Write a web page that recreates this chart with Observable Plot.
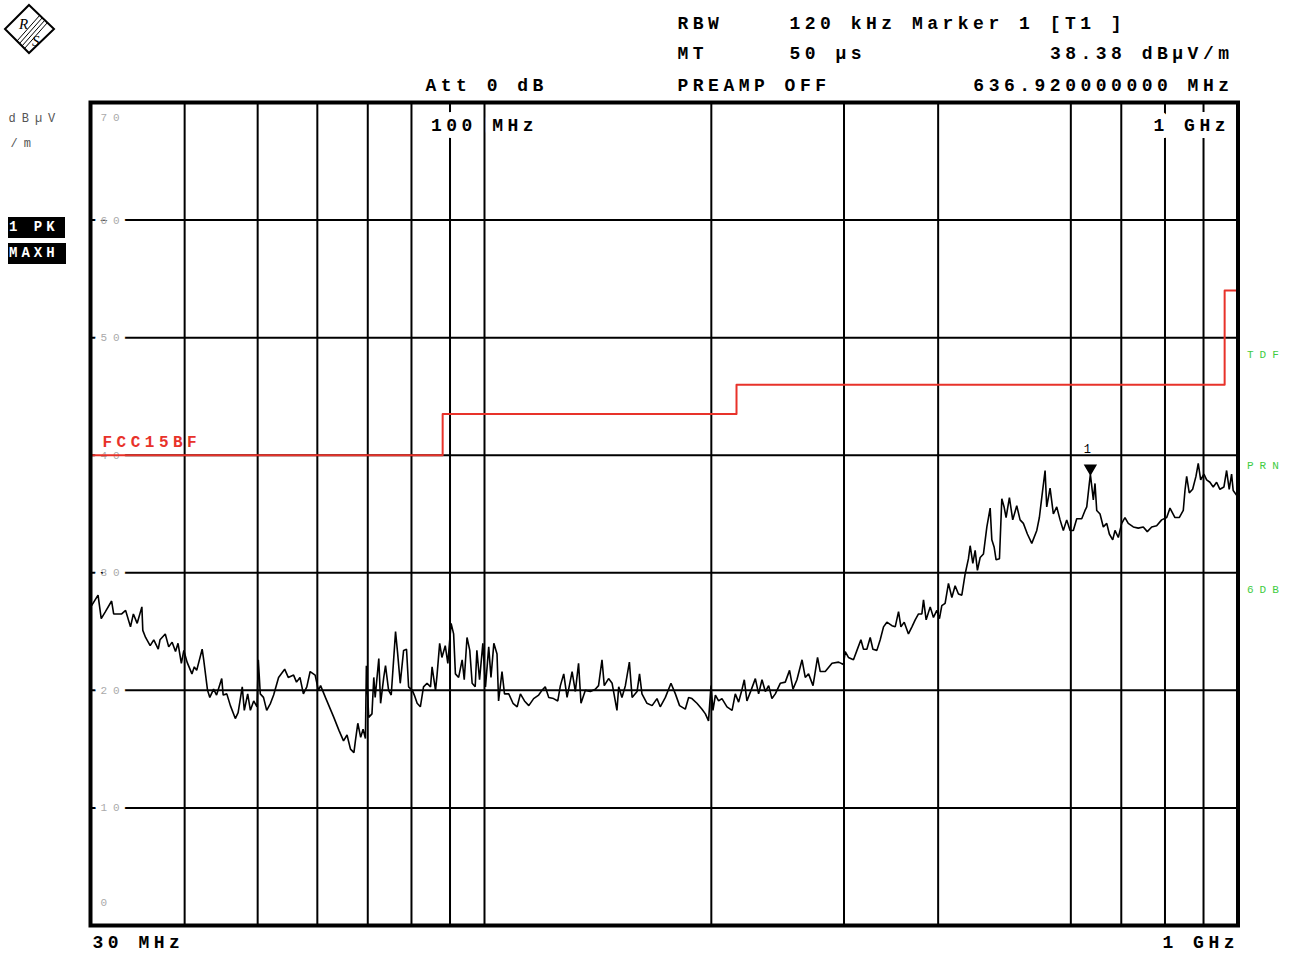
<!DOCTYPE html>
<html>
<head>
<meta charset="utf-8">
<script src="https://cdn.jsdelivr.net/npm/d3@7"></script>
<script src="https://cdn.jsdelivr.net/npm/@observablehq/plot@0.6"></script>
<style>
  html, body { margin: 0; padding: 0; background: #fff; }
  #wrap { position: relative; width: 1302px; height: 958px; overflow: hidden; }
  #wrap svg.plot { position: absolute; left: 0; top: 0; }
  .box { position: absolute; background: #000; color: #fff; font: bold 14px 'Liberation Mono', monospace;
         letter-spacing: 4px; line-height: 21px; height: 21px; overflow: hidden; padding-left: 1px; box-sizing: border-box; }
  #logo { position: absolute; left: 0; top: 0; }
</style>
</head>
<body>
<div id="wrap"></div>
<script>
// ---------- data ----------
const freqMHz = [
  30.1,30.7,31.0,31.4,32.0,32.2,33.0,33.4,33.9,34.2,34.6,35.1,35.2,35.5,36.0,36.4,36.9,37.1,37.7,38.1,38.5,38.9,39.2,39.6,39.9,
  40.3,40.9,41.2,41.5,42.2,42.4,42.9,43.2,43.7,44.1,44.8,45.0,45.5,46.0,46.7,47.1,47.7,48.0,48.5,48.9,49.4,49.9,
  50.1,50.4,50.9,51.4,52.0,52.5,53.3,54.3,54.9,55.8,56.3,56.9,57.5,58.1,58.7,59.6,
  60.2,60.6,61.5,63.1,64.1,65.0,65.7,66.4,67.1,67.4,67.9,68.5,69.0,69.5,69.7,
  70.2,70.9,71.3,71.6,72.4,72.8,73.5,73.9,74.6,75.2,76.2,76.7,77.3,78.1,78.8,79.3,
  80.2,80.7,81.4,82.2,83.0,83.9,84.8,85.2,86.1,86.5,87.2,87.8,88.7,89.4,
  90.3,91.0,91.5,92.4,93.4,94.0,94.8,95.6,96.3,97.2,97.7,98.5,99.5,
  100.3,101.3,102.0,102.9,103.9,104.4,105.5,106.3,107.7,109.1,110.5,111.6,113.0,114.5,116.2,118.0,119.2,120.4,121.7,123.5,125.1,
  126.1,127.4,128.7,130.7,132.0,133.3,134.3,136.1,138.2,140.3,141.7,143.2,144.2,146.1,147.7,149.9,150.7,152.2,153.8,155.7,
  157.0,159.4,160.6,161.8,164.3,166.9,169.4,171.1,173.8,176.8,179.2,181.5,184.7,186.6,188.5,191.4,194.4,196.4,198.3,
  199.8,201.0,202.5,204.5,206.6,209.8,213.1,215.2,217.4,219.7,221.2,223.0,225.8,228.8,231.1,233.5,235.9,238.3,240.7,243.2,
  246.9,250.7,254.0,256.7,259.8,263.9,266.5,269.2,272.9,276.7,279.0,283.3,289.2,295.1,
  299.5,301.1,304.1,308.8,312.1,315.9,318.4,321.7,325.0,327.7,331.7,335.1,338.5,342.0,347.3,350.8,354.4,357.0,360.6,365.3,
  369.2,372.9,376.7,380.6,382.5,385.6,390.4,394.3,
  398.4,401.6,404.5,408.6,412.8,417.1,421.3,425.6,430.0,434.4,438.8,441.1,444.7,447.9,451.0,454.8,459.4,464.2,468.9,471.3,
  474.6,477.5,482.4,485.9,489.3,492.3,497.3,
  502.4,508.6,513.8,519.0,525.4,532.5,540.7,545.0,549.0,554.6,557.4,563.1,568.8,574.7,
  580.6,586.4,592.5,598.6,604.6,610.9,620.3,626.6,629.9,634.9,636.92,642.7,646.0,649.4,656.0,662.6,669.6,674.9,681.9,686.7,693.7,
  700.9,707.9,715.1,726.2,737.3,748.7,757.9,768.2,779.9,791.9,
  804.2,812.3,824.8,835.7,846.0,850.4,854.8,861.6,870.6,879.4,885.6,892.2,
  901.1,908.6,917.8,927.1,936.7,946.2,957.9,965.8,973.5,980.6,985.4,995.8,1000
];
const levelDb = [
  27.2,28.1,26.1,26.7,27.6,26.5,26.5,26.8,25.4,26.5,25.7,27.1,25.1,24.5,23.8,24.3,23.5,24.3,24.8,23.7,24.1,23.3,24.0,22.3,23.4,
  22.4,21.4,22.0,21.7,23.5,22.6,20.0,19.4,20.1,19.6,21.0,19.6,19.7,18.7,17.6,18.1,20.3,18.3,19.7,18.3,19.1,18.6,
  22.6,19.7,19.4,18.3,18.9,19.6,21.1,21.8,21.1,21.3,20.7,21.1,19.7,20.3,21.6,21.3,
  20.0,20.4,19.4,17.7,16.6,15.7,16.2,15.0,14.7,15.7,17.2,16.0,16.7,15.9,22.1,
  17.7,18.0,21.1,19.4,22.7,18.9,21.1,22.1,20.0,19.6,25.0,23.1,20.6,23.4,23.5,20.3,
  20.0,19.6,18.9,18.6,20.3,20.6,20.3,22.0,20.0,21.3,24.0,22.8,23.8,22.3,
  25.7,24.8,21.4,21.1,22.6,20.9,24.5,23.4,20.6,20.3,23.4,20.9,24.0,
  20.3,23.7,21.1,24.0,23.1,19.1,21.6,19.7,19.7,18.9,18.6,19.7,19.1,18.7,19.3,19.6,20.0,20.3,19.4,19.3,19.1,
  20.4,21.4,19.4,21.6,19.9,22.3,18.9,20.0,19.9,20.1,20.4,22.6,20.4,21.0,20.6,18.3,20.3,19.4,20.4,22.4,
  19.4,19.9,21.4,19.7,18.9,18.7,19.3,18.6,19.4,20.6,19.7,18.7,18.4,19.4,19.3,18.9,18.4,18.0,17.4,
  20.4,18.3,19.6,19.1,19.3,18.6,18.3,19.7,19.0,20.1,20.9,19.1,20.0,21.0,19.7,20.9,19.9,20.4,19.3,19.7,
  20.6,20.7,21.7,20.1,20.9,22.6,21.1,21.4,20.4,22.8,21.6,21.6,22.3,22.4,
  22.2,23.3,22.8,22.6,23.4,24.3,23.5,23.5,24.5,23.5,23.4,24.3,25.4,25.8,25.5,25.4,26.7,25.4,25.8,24.8,
  25.4,26.0,26.5,26.5,27.7,26.0,27.1,26.2,
  26.8,26.1,27.2,27.4,29.1,27.9,28.9,28.2,28.1,29.9,31.2,32.3,30.8,31.9,30.2,31.3,31.6,33.9,35.5,32.8,
  32.2,31.1,31.2,36.3,35.6,34.7,36.4,
  34.5,35.7,34.5,34.2,33.3,32.5,33.6,34.7,36.4,38.7,35.6,37.2,35.0,35.6,
  34.5,33.6,34.5,33.6,33.6,34.6,34.6,35.3,35.6,37.6,38.38,36.2,37.6,35.3,35.0,33.9,34.2,33.3,32.8,33.6,33.0,
  34.2,34.7,34.2,33.9,33.8,33.9,33.5,33.9,34.0,34.5,
  34.7,35.5,34.7,34.7,35.3,37.0,38.2,36.8,37.1,38.2,39.3,37.9,
  38.4,37.9,37.7,37.3,37.7,37.1,37.3,38.7,37.1,38.4,37.0,36.6,36.3
];
// FCC 15 class B limit line (step)
const limitFreq = [30, 88, 88, 216, 216, 960, 960, 1000];
const limitDb   = [40, 40, 43.5, 43.5, 46, 46, 54, 54];
const limitName = "FCC15BF";
// grid
const xGridMHz = [40, 50, 60, 70, 80, 90, 100, 200, 300, 400, 600, 700, 800, 900];
const yGridDb = [10, 20, 30, 40, 50, 60];
const yTickDb = [10, 20, 30, 40, 50, 60];
const xDomain = [30, 1000];
const yDomain = [0, 70];
// marker
const markerFreq = [636.92];
const markerDb = [38.38];
const markerName = ["1"];
// texts
const headerTexts = {
  rbwKey: "RBW", rbwVal: "120 kHz Marker 1 [T1 ]",
  mtKey: "MT", mtVal: "50 µs", markerLevel: "38.38 dBµV/m",
  att: "Att 0 dB", preamp: "PREAMP OFF", markerFreqText: "636.920000000 MHz",
  unit1: "dBµV", unit2: "/m",
  innerLeft: "100 MHz", innerRight: "1 GHz",
  startText: "30 MHz", stopText: "1 GHz",
  trace1: "1 PK", trace2: "MAXH"
};
const sideLabels = ["TDF", "PRN", "6DB"];

// ---------- build ----------
const trace = freqMHz.map((f, i) => ({f, v: levelDb[i]}));
const limit = limitFreq.map((f, i) => ({f, v: limitDb[i]}));
const marker = markerFreq.map((f, i) => ({f, v: markerDb[i], name: markerName[i]}));

const mono = "'Liberation Mono', 'DejaVu Sans Mono', monospace";
const RED = "#e8322a";
const GREEN = "#41cc41";
const GRAY = "#aaaaaa";
const BIG = 18;

function lab(text, o) {
  return Plot.text([text], Object.assign({
    text: d => d, frameAnchor: "top-left", textAnchor: "start",
    fontFamily: mono, fontWeight: "bold", fontSize: BIG, fill: "black"
  }, o));
}

const chart = Plot.plot({
  width: 1302, height: 958,
  marginLeft: 90, marginRight: 64.5, marginTop: 102, marginBottom: 33,
  x: {type: "log", domain: xDomain, axis: null},
  y: {domain: yDomain, axis: null},
  style: {fontFamily: mono, letterSpacing: "4.5px", background: "white"},
  marks: [
    Plot.ruleX(xGridMHz, {stroke: "black", strokeWidth: 2}),
    Plot.ruleY(yGridDb, {stroke: "black", strokeWidth: 2}),
    // y tick labels (gray, inside plot, interrupting gridlines)
    Plot.text(yTickDb, {y: d => d, text: d => String(d), frameAnchor: "left", dx: 10, textAnchor: "start",
      fill: GRAY, stroke: "white", strokeWidth: 12, fontSize: 11, fontFamily: mono}),
    Plot.text([70], {y: d => d, text: d => String(d), frameAnchor: "left", dx: 10, dy: 15, textAnchor: "start",
      fill: GRAY, stroke: "white", strokeWidth: 7, fontSize: 11, fontFamily: mono}),
    Plot.text([0], {y: d => d, text: d => String(d), frameAnchor: "left", dx: 10, dy: -23, textAnchor: "start",
      fill: GRAY, stroke: "white", strokeWidth: 7, fontSize: 11, fontFamily: mono}),
    // inner frequency labels
    Plot.text([100], {x: d => d, text: () => headerTexts.innerLeft, frameAnchor: "top", dy: 16, textAnchor: "middle",
      fill: "black", stroke: "white", strokeWidth: 14, fontSize: BIG, fontWeight: "bold", fontFamily: mono}),
    Plot.text([1000], {x: d => d, text: () => headerTexts.innerRight, frameAnchor: "top", dx: -8, dy: 16, textAnchor: "end",
      fill: "black", stroke: "white", strokeWidth: 14, fontSize: BIG, fontWeight: "bold", fontFamily: mono}),
    // limit line
    Plot.line(limit, {x: "f", y: "v", stroke: RED, strokeWidth: 2}),
    Plot.text([limit[0]], {x: "f", y: "v", text: () => limitName, dx: 12, dy: -13, textAnchor: "start",
      fill: RED, fontSize: 16, fontWeight: "bold", fontFamily: mono}),
    // trace
    Plot.line(trace, {x: "f", y: "v", stroke: "black", strokeWidth: 1.6, strokeLinejoin: "miter"}),
    // marker
    Plot.dot(marker, {x: "f", y: "v", symbol: "triangle", rotate: 180, r: 4, fill: "black", stroke: "black", dy: -6}),
    Plot.text(marker, {x: "f", y: "v", text: "name", dy: -25, fontSize: 12, fontFamily: mono, fill: "black"}),
    // frame
    Plot.frame({stroke: "black", strokeWidth: 4}),
    // side labels (green, right of frame)
    Plot.text([sideLabels[0]], {text: d => d, frameAnchor: "top-right", dx: 9, dy: 248, textAnchor: "start", fill: GREEN, fontSize: 11, fontFamily: mono}),
    Plot.text([sideLabels[1]], {text: d => d, frameAnchor: "top-right", dx: 9, dy: 359, textAnchor: "start", fill: GREEN, fontSize: 11, fontFamily: mono}),
    Plot.text([sideLabels[2]], {text: d => d, frameAnchor: "top-right", dx: 9, dy: 483, textAnchor: "start", fill: GREEN, fontSize: 11, fontFamily: mono}),
    // header
    lab(headerTexts.rbwKey, {dx: 587, dy: -86}),
    lab(headerTexts.rbwVal, {dx: 699, dy: -86}),
    lab(headerTexts.mtKey, {dx: 587, dy: -56}),
    lab(headerTexts.mtVal, {dx: 699, dy: -56}),
    lab(headerTexts.markerLevel, {dx: 1143, dy: -56, textAnchor: "end"}),
    lab(headerTexts.att, {dx: 335, dy: -24}),
    lab(headerTexts.preamp, {dx: 587, dy: -24}),
    lab(headerTexts.markerFreqText, {dx: 1143, dy: -24, textAnchor: "end"}),
    // unit
    lab(headerTexts.unit1, {dx: -82, dy: 11, fontSize: 12, fontWeight: "normal", fill: "#555"}),
    lab(headerTexts.unit2, {dx: -80, dy: 36, fontSize: 12, fontWeight: "normal", fill: "#555"}),
    // start / stop
    Plot.text([30], {x: d => d, text: () => headerTexts.startText, frameAnchor: "bottom", dx: 2, dy: 22, textAnchor: "start",
      fill: "black", fontSize: BIG, fontWeight: "bold", fontFamily: mono}),
    Plot.text([1000], {x: d => d, text: () => headerTexts.stopText, frameAnchor: "bottom", dx: 1, dy: 22, textAnchor: "end",
      fill: "black", fontSize: BIG, fontWeight: "bold", fontFamily: mono})
  ]
});
chart.classList.add("plot");
// wider spacing for the small screen labels
d3.select(chart).selectAll("g[font-size='11'], g[font-size='12']").attr("letter-spacing", "6px");
const wrap = document.getElementById("wrap");
wrap.appendChild(chart);

// trace info boxes
const b1 = document.createElement("div");
b1.className = "box"; b1.style.left = "8px"; b1.style.top = "217px"; b1.style.width = "57px";
b1.textContent = headerTexts.trace1;
const b2 = document.createElement("div");
b2.className = "box"; b2.style.left = "8px"; b2.style.top = "243px"; b2.style.width = "58px";
b2.textContent = headerTexts.trace2;
wrap.appendChild(b1); wrap.appendChild(b2);

// R&S logo (decoration)
const logo = d3.select(wrap).append("svg").attr("id", "logo").attr("width", 70).attr("height", 60);
logo.append("path").attr("d", "M29,5 L54,29 L29,53 L5,29 Z").attr("fill", "white").attr("stroke", "black").attr("stroke-width", 2);
[0, 2.5, 5, 7.5].forEach(o => {
  logo.append("line").attr("x1", 40 + o).attr("y1", 15 + o).attr("x2", 17 + o).attr("y2", 41 + o)
    .attr("stroke", "black").attr("stroke-width", 1);
});
logo.append("text").attr("x", 19).attr("y", 29).attr("font-family", "'Liberation Serif', serif").attr("font-size", 15)
  .attr("font-style", "italic").text("R");
logo.append("text").attr("x", 32).attr("y", 46).attr("font-family", "'Liberation Serif', serif").attr("font-size", 15)
  .attr("font-style", "italic").text("S");
</script>
</body>
</html>
